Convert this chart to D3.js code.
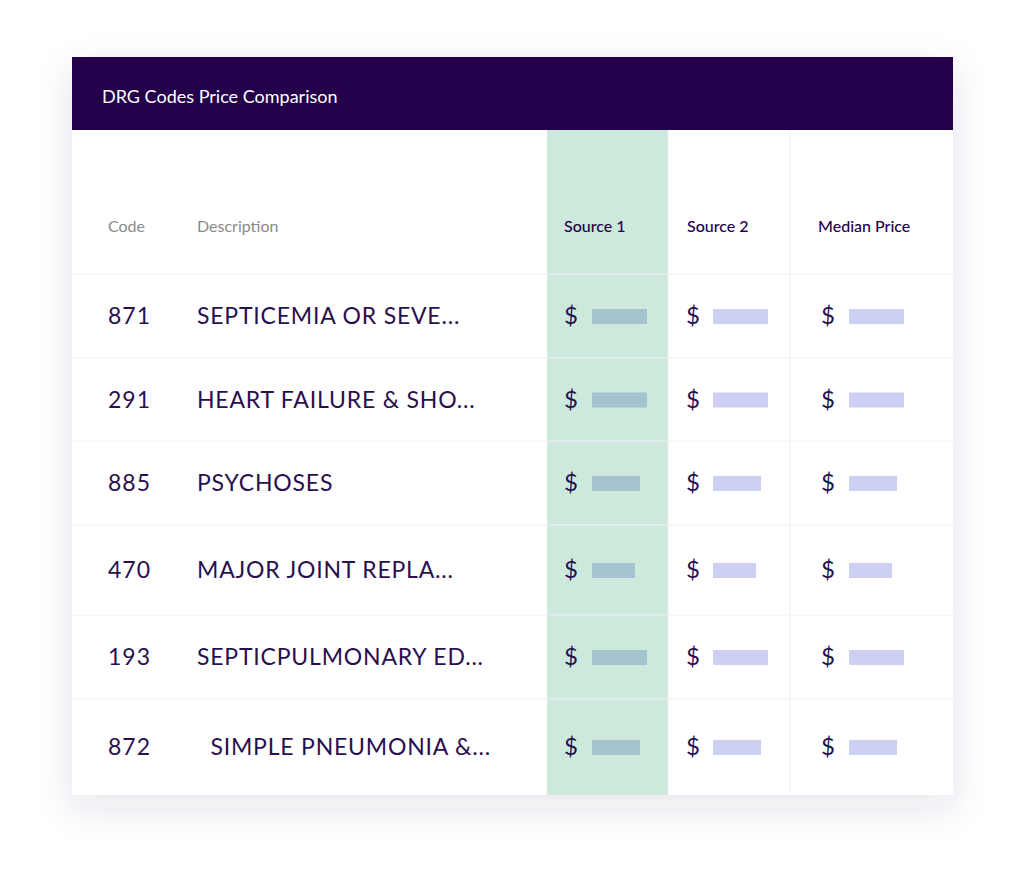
<!DOCTYPE html>
<html><head><meta charset="utf-8">
<script src="https://cdn.jsdelivr.net/npm/d3@7"></script>
<style>body{margin:0;background:#fff}</style></head>
<body><svg id="c" width="1024" height="879"></svg>
<script>
const title = "DRG Codes Price Comparison";
const columns = ["Code","Description","Source 1","Source 2","Median Price"];
const codes = ["871","291","885","470","193","872"];
const descriptions = ["SEPTICEMIA OR SEVE...","HEART FAILURE & SHO...","PSYCHOSES","MAJOR JOINT REPLA...","SEPTICPULMONARY ED...","  SIMPLE PNEUMONIA &..."];
const source1 = [5.5,5.5,4.8,4.3,5.5,4.8];
const source2 = [5.5,5.5,4.8,4.3,5.5,4.8];
const median = [5.5,5.5,4.8,4.3,5.5,4.8];

const svg = d3.select("#c");
const defs = svg.append("defs");
const f = defs.append("filter").attr("id","sh").attr("x","-20%").attr("y","-20%").attr("width","140%").attr("height","140%");
f.append("feDropShadow").attr("dx",0).attr("dy",12).attr("stdDeviation",18).attr("flood-color","#3a2a6a").attr("flood-opacity",0.12);

const L=72,R=953,T=57,B=795;
svg.append("rect").attr("x",L).attr("y",T).attr("width",R-L).attr("height",B-T).attr("fill","#fff").attr("filter","url(#sh)");
svg.append("rect").attr("x",L).attr("y",T).attr("width",R-L).attr("height",73).attr("fill","#230049");
svg.append("text").attr("x",102).attr("y",103).text(title).attr("fill","#fff").attr("font-family","Lato").attr("font-size",18);

svg.append("rect").attr("x",547).attr("y",130).attr("width",121).attr("height",B-130).attr("fill","#cde9dc");
[668,790].forEach(x=>svg.append("line").attr("x1",x).attr("x2",x).attr("y1",130).attr("y2",B).attr("stroke","#efeefa").attr("stroke-width",1));

const rowEdges=[274,358,441,525,615,699,795];
rowEdges.slice(0,6).forEach(y=>svg.append("line").attr("x1",L).attr("x2",R).attr("y1",y).attr("y2",y).attr("stroke","#efeefa"));

const hx=[108,197,564,687,818];
columns.forEach((c,i)=>svg.append("text").attr("x",hx[i]).attr("y",232).text(c)
  .attr("font-family","Lato").attr("font-size",16).attr("fill",i<2?"#8a8a8a":"#230049").attr("font-weight",i<2?400:500));

const bx = d3.scaleLinear().domain([0,10]).range([0,100]);
const rowY = d=>i=>(rowEdges[i]+rowEdges[i+1])/2;
const cy = codes.map((_,i)=>(rowEdges[i]+rowEdges[i+1])/2);
const g = svg.append("g").attr("font-family","Lato").attr("fill","#2a0f4f");
codes.forEach((c,i)=>{
  g.append("text").attr("x",108).attr("y",cy[i]+8).text(c).attr("font-size",23).attr("letter-spacing",1);
  g.append("text").attr("x",197).attr("y",cy[i]+8).text(descriptions[i]).attr("font-size",23).attr("letter-spacing",0.8).attr("xml:space","preserve").style("white-space","pre");
});
const sets=[[source1,564,592,"#a5c4cf"],[source2,686,713,"#cdd0f2"],[median,821,849,"#cdd0f2"]];
sets.forEach(([vals,dx,bx0,col])=>{
  vals.forEach((v,i)=>{
    g.append("text").attr("x",dx).attr("y",cy[i]+8).text("$").attr("font-size",24);
    g.append("rect").attr("x",bx0).attr("y",cy[i]-7).attr("width",bx(v)).attr("height",15).attr("fill",col);
  });
});
</script></body></html>
